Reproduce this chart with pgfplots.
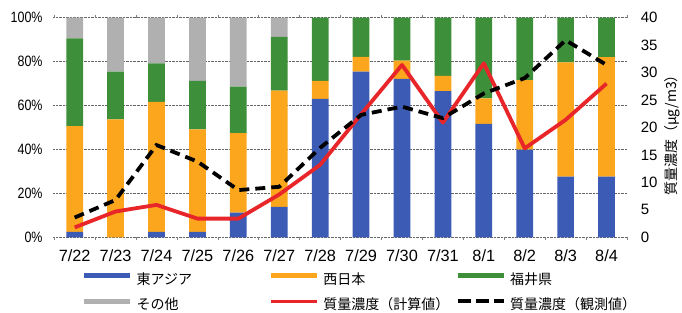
\documentclass[border=0pt]{standalone}
\usepackage{fontspec}
\setmainfont{Liberation Sans}
\newfontfamily\jp{Noto Sans CJK JP}
\newfontfamily\narrowsans[FakeStretch=0.83]{Liberation Sans}
\usepackage{pgfplots}
\usepackage{pgfplotstable}
\pgfplotsset{compat=1.18}
\definecolor{cblue}{HTML}{3B5BB5}
\definecolor{corange}{HTML}{FBA61C}
\definecolor{cgreen}{HTML}{3D8F3A}
\definecolor{cgray}{HTML}{B0B0B0}
\definecolor{cred}{HTML}{E8262A}
\pgfplotstableread{
x blue orange green gray calc obs
0 2.5 48.1 40.0 9.4 1.8 3.6
1 0 53.7 21.7 24.6 4.7 6.8
2 2.5 59.2 17.5 20.8 5.9 16.8
3 2.5 46.7 22.0 28.8 3.4 13.8
4 11.2 36.2 21.2 31.4 3.4 8.6
5 13.9 52.9 24.5 8.7 7.8 9.2
6 63.0 8.2 28.8 0 13.2 16.3
7 75.4 6.8 17.8 0 22.4 22.3
8 72.1 8.3 19.6 0 31.4 23.8
9 66.6 6.9 26.5 0 20.9 21.7
10 51.6 11.7 36.7 0 31.7 26.2
11 39.9 31.7 28.4 0 16.2 29.0
12 27.6 52.1 20.3 0 21.4 35.9
13 27.6 54.4 18.0 0 28.0 31.4
}\datatable
\begin{document}
\begin{tikzpicture}
\useasboundingbox (-53bp,-75.7bp) rectangle (629bp,237.3bp);
\begin{axis}[
  at={(0,0)}, anchor=south west,
  scale only axis, width=574bp, height=219.6bp,
  xmin=-0.53, xmax=13.5, ymin=0, ymax=100,
  ybar stacked, bar width=16.7bp,
  xtick={0,...,13},
  xticklabels={7/22,7/23,7/24,7/25,7/26,7/27,7/28,7/29,7/30,7/31,8/1,8/2,8/3,8/4},
  ytick={0,20,...,100},
  yticklabels={0\%,20\%,40\%,60\%,80\%,100\%},
  axis line style={draw=none},
  major tick length=0pt,
  ymajorgrids, grid style={densely dotted, black!60, line width=0.7bp},
  extra x ticks={-0.5,0.5,...,13.5}, extra x tick labels={},
  extra x tick style={major tick length=3bp, tick align=outside, tick style={black!50, line width=0.6bp}},
  xticklabel style={font=\fontsize{16.3bp}{18bp}\selectfont, anchor=north, inner sep=0pt, yshift=-12.5bp},
  yticklabel style={font=\narrowsans\fontsize{15bp}{17bp}\selectfont, anchor=east, inner sep=0pt, xshift=-10.3bp},
]
\addplot[fill=cblue, draw=none] table[x=x, y=blue] {\datatable};
\addplot[fill=corange, draw=none] table[x=x, y=orange] {\datatable};
\addplot[fill=cgreen, draw=none] table[x=x, y=green] {\datatable};
\addplot[fill=cgray, draw=none] table[x=x, y=gray] {\datatable};
\end{axis}
\begin{axis}[
  at={(0,0)}, anchor=south west,
  scale only axis, width=574bp, height=219.6bp,
  xmin=-0.53, xmax=13.5, ymin=0, ymax=40,
  axis x line=none,
  axis y line*=right, y axis line style={draw=none},
  major tick length=0pt,
  ytick={0,5,...,40},
  /pgf/number format/assume math mode=true,
  yticklabel style={font=\fontsize{15bp}{17bp}\selectfont, anchor=west, inner sep=0pt, xshift=13.7bp},
  clip=false,
  legend columns=3,
  legend cell align=left,
  legend style={at={(axis description cs:0.0505,-0.164)}, anchor=north west, draw=none, fill=none,
    inner sep=0pt, outer sep=0pt, row sep=11.5bp,
    font=\jp\fontsize{14bp}{16bp}\selectfont,
    nodes={inner sep=0pt, text height=11bp, text depth=3bp},
    /tikz/every odd column/.append style={column sep=4bp},
    /tikz/every even column/.append style={column sep=5bp}},
]
\addlegendimage{legend image code/.code={\draw[draw=cblue, line width=4.7bp] (0bp,4.5bp) -- (46bp,4.5bp);}}
\addlegendentry{\makebox[127bp][l]{東アジア}}
\addlegendimage{legend image code/.code={\draw[draw=corange, line width=4.7bp] (0bp,4.5bp) -- (46bp,4.5bp);}}
\addlegendentry{\makebox[127bp][l]{西日本}}
\addlegendimage{legend image code/.code={\draw[draw=cgreen, line width=4.7bp] (0bp,4.5bp) -- (46bp,4.5bp);}}
\addlegendentry{\makebox[127bp][l]{福井県}}
\addlegendimage{legend image code/.code={\draw[draw=cgray, line width=4.7bp] (0bp,4.5bp) -- (46bp,4.5bp);}}
\addlegendentry{\makebox[127bp][l]{その他}}
\addplot[cred, line width=3.8bp, line join=round, mark=none,
  legend image code/.code={\draw[draw=cred, line width=3.5bp] (0bp,4.5bp) -- (46bp,4.5bp);}]
  table[x=x, y=calc] {\datatable};
\addlegendentry{\makebox[127bp][l]{質量濃度（計算値）}}
\addplot[black, line width=3.8bp, dash pattern=on 10bp off 6bp, mark=none,
  legend image code/.code={\draw[draw=black, line width=3.8bp, dash pattern=on 13bp off 5bp] (0bp,4.5bp) -- (46bp,4.5bp);}]
  table[x=x, y=obs] {\datatable};
\addlegendentry{\makebox[127bp][l]{質量濃度（観測値）}}
\node[rotate=90, anchor=center, inner sep=0pt, font=\jp\fontsize{14bp}{16bp}\selectfont]
  at (axis description cs:1.0784,0.4795) {質量濃度（μg/m3）};
\end{axis}
\end{tikzpicture}
\end{document}
